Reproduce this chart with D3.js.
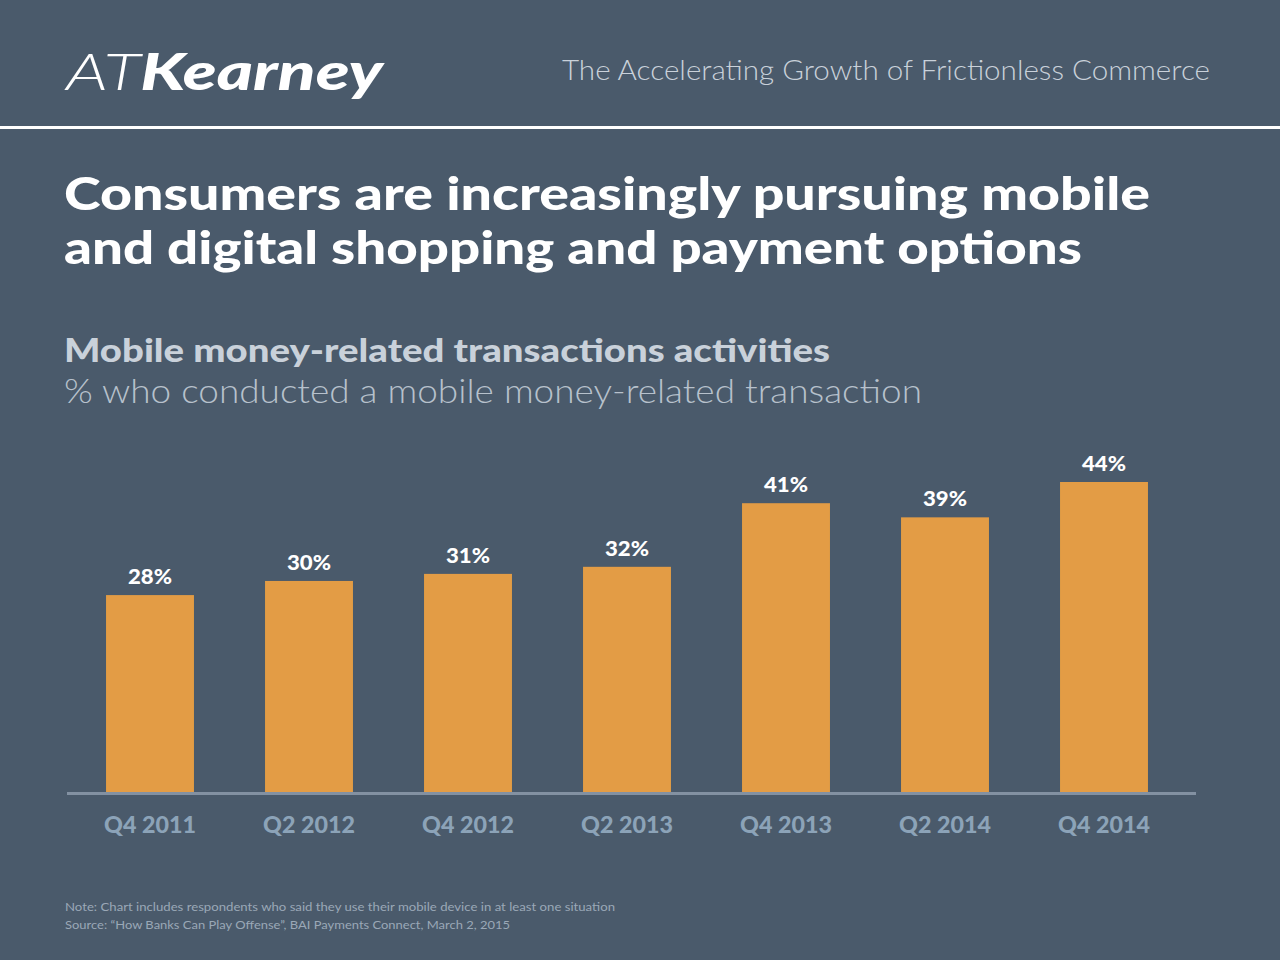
<!DOCTYPE html>
<html><head><meta charset="utf-8">
<script src="https://cdn.jsdelivr.net/npm/d3@7"></script>
<style>body{margin:0;background:#4a5a6b}svg{display:block}</style>
</head><body><svg id="c" width="1280" height="960"></svg>
<script>
const categories=["Q4 2011","Q2 2012","Q4 2012","Q2 2013","Q4 2013","Q2 2014","Q4 2014"];
const values=[28,30,31,32,41,39,44];
const svg=d3.select("#c");
const F="Lato, 'Open Sans', sans-serif";
const fit=(t,w)=>t.attr("textLength",w).attr("lengthAdjust","spacingAndGlyphs");
svg.append("rect").attr("width",1280).attr("height",960).attr("fill","#4a5a6b");
svg.append("text").attr("x",66).attr("y",90).attr("fill","#fff").attr("font-family",F)
 .attr("font-size",52).attr("font-style","italic").call(t=>fit(t,317))
 .call(t=>{t.append("tspan").attr("font-weight",300).text("AT");t.append("tspan").attr("font-weight",900).text("Kearney");});
svg.append("text").attr("x",562).attr("y",80).attr("fill","#c9d1da")
 .attr("font-family",F).attr("font-weight",300).attr("font-size",28).call(t=>fit(t,648)).text("The Accelerating Growth of Frictionless Commerce");
svg.append("rect").attr("x",0).attr("y",126).attr("width",1280).attr("height",3).attr("fill","#fff");
[["Consumers are increasingly pursuing mobile",1086],["and digital shopping and payment options",1018]].forEach(([s,w],i)=>
 svg.append("text").attr("x",64).attr("y",210+i*54).attr("fill","#fff").attr("font-family",F)
 .attr("font-weight",900).attr("font-size",46).call(t=>fit(t,w)).text(s));
svg.append("text").attr("x",64).attr("y",362).attr("fill","#c9d1da").attr("font-family",F)
 .attr("font-weight",900).attr("font-size",32).call(t=>fit(t,766)).text("Mobile money-related transactions activities");
svg.append("text").attr("x",64).attr("y",403).attr("fill","#b7c1cc").attr("font-family",F)
 .attr("font-weight",300).attr("font-size",34).call(t=>fit(t,858)).text("% who conducted a mobile money-related transaction");
const x=d3.scaleBand().domain(categories).range([70.5,1183.5]).paddingInner(0.447).paddingOuter(0.2235);
const y=d3.scaleLinear().domain([0,44]).range([793,482]);
svg.selectAll(".b").data(values).join("rect").attr("x",(d,i)=>x(categories[i])).attr("width",x.bandwidth())
 .attr("y",d=>y(d)).attr("height",d=>y(0)-y(d)).attr("fill","#e39c45");
svg.selectAll(".v").data(values).join("text").attr("x",(d,i)=>x(categories[i])+x.bandwidth()/2)
 .attr("y",d=>y(d)-11).attr("text-anchor","middle").attr("fill","#fff").attr("font-family",F)
 .attr("font-weight",900).attr("font-size",20).call(t=>fit(t,44)).text(d=>d+"%");
svg.append("rect").attr("x",67).attr("y",792).attr("width",1129).attr("height",3).attr("fill","#8391a2");
const ax=svg.append("g").attr("transform","translate(0,795)").call(d3.axisBottom(x).tickSize(0).tickPadding(0));
ax.select(".domain").remove();
ax.selectAll("text").attr("dy",0).attr("y",38).attr("fill","#8ca3b8").attr("font-family",F)
 .attr("font-weight",900).attr("font-size",23).call(t=>fit(t,92));
[["Note: Chart includes respondents who said they use their mobile device in at least one situation",550],
 ["Source: “How Banks Can Play Offense”, BAI Payments Connect, March 2, 2015",445]].forEach(([s,w],i)=>
 svg.append("text").attr("x",65).attr("y",911+i*18).attr("fill","#9aa8b7").attr("font-family",F)
 .attr("font-size",12).call(t=>fit(t,w)).text(s));
</script></body></html>
